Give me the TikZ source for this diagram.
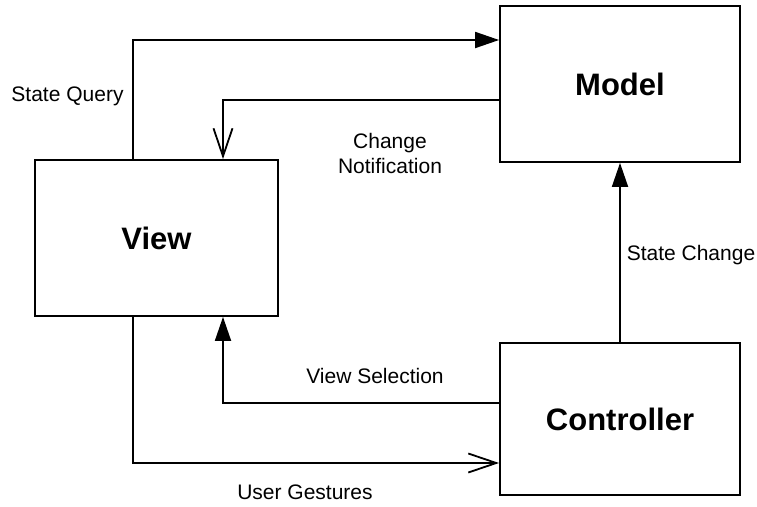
\documentclass[tikz,border=0pt]{standalone}
\usepackage{fontspec}
\setmainfont{Liberation Sans}
\usetikzlibrary{arrows.meta}
\begin{document}
\begin{tikzpicture}[x=1pt,y=-1pt]
        \tikzstyle{block}=[draw,line width=1.8pt,minimum width=240pt,minimum height=156pt,inner sep=0pt,font=\fontsize{31}{37}\selectfont\bfseries]
        \tikzstyle{label}=[align=center,inner sep=0pt,font=\fontsize{21}{25}\selectfont]
        \tikzstyle{filled}=[line width=1.8pt,-{Triangle[length=24pt,width=16pt]}]
        \tikzstyle{open}=[line width=1.8pt,-{Straight Barb[length=28pt,width=19pt]}]
        \useasboundingbox (0,0) rectangle (757,506);

        % Boxes
        \node[block](model) at (620,84){Model};
        \node[block,minimum width=243pt](view) at (156.5,238){View};
        \node[block,minimum height=152pt](ctrl) at (620,419){Controller};

        % Connectors
        \draw[filled] ([xshift=-23.5pt]view.north) |- ([yshift=44pt]model.west);
        \draw[open] ([yshift=-16pt]model.west) -| ([xshift=66.5pt]view.north);
        \draw[filled] (ctrl.north) -- (model.south);
        \draw[filled] ([yshift=16pt]ctrl.west) -| ([xshift=66.5pt]view.south);
        \draw[open] ([xshift=-23.5pt]view.south) |- ([yshift=-44pt]ctrl.west);

        % Labels
        \node[label](query) at (67.5,96){State Query};
        \node[label](notify) at (390,153){Change\\Notification};
        \node[label](change) at (691,255){State Change};
        \node[label](select) at (375,376){View Selection};
        \node[label](gesture) at (305,492){User Gestures};
    \end{tikzpicture}
\end{document}
